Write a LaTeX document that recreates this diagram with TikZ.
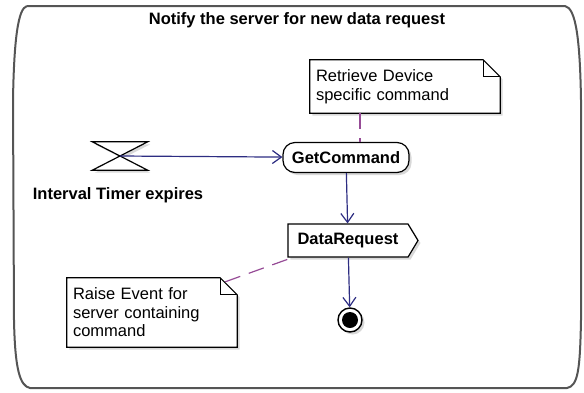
\documentclass[tikz,border=0pt]{standalone}
\usepackage{fontspec}
\setmainfont{Liberation Sans}
\usetikzlibrary{arrows.meta,shapes.symbols,shadows,backgrounds,positioning}

\definecolor{flowblue}{RGB}{45,45,130}
\definecolor{anchorpurple}{RGB}{150,75,150}
\definecolor{framegray}{RGB}{85,85,85}

\newcommand{\diagfont}{\fontsize{16.5}{18.5}\selectfont}

% note outline with a folded corner, drawn behind the note text
\newcommand{\notefold}[1]{%
	\begin{scope}[on background layer]
		\draw[noteline] (#1.north west) -- ([xshift=-17pt]#1.north east) -- ([yshift=-17pt]#1.north east) -- (#1.south east) -- (#1.south west) -- cycle;
		\draw[line width=1pt] ([xshift=-17pt]#1.north east) -- ([xshift=-17pt,yshift=-17pt]#1.north east) -- ([yshift=-17pt]#1.north east);
	\end{scope}
}

\begin{document}
\begin{tikzpicture}[x=1pt,y=-1pt]
		\tikzstyle{every node}=[font=\diagfont]
		\tikzstyle{boldtext}=[font=\diagfont\bfseries]
		\tikzstyle{softshadow}=[drop shadow={shadow xshift=2.5pt,shadow yshift=-2.5pt,fill=black!30}]
		\tikzstyle{action}=[boldtext, softshadow, draw, line width=1.2pt, fill=white, rounded corners=12pt, minimum width=126pt, minimum height=30pt, inner sep=2pt]
		\tikzstyle{sendsignal}=[boldtext, softshadow, draw, line width=1.2pt, fill=white, signal, signal to=east, signal pointer angle=118, minimum width=130pt, minimum height=33pt, inner sep=2pt]
		\tikzstyle{final}=[softshadow, circle, draw, line width=1.4pt, fill=white, minimum size=24pt, inner sep=0pt]
		\tikzstyle{timerbox}=[minimum width=55pt, minimum height=28pt, inner sep=0pt]
		\tikzstyle{hourglass}=[line width=1.2pt, fill=white, softshadow]
		\tikzstyle{notebox}=[align=left, inner sep=6pt]
		\tikzstyle{noteline}=[line width=1.2pt, fill=white, softshadow]
		\tikzstyle{flow}=[draw=flowblue, line width=1.2pt, -{Straight Barb[length=9pt,width=13pt]}]
		\tikzstyle{anchorline}=[draw=anchorpurple, line width=1.2pt, dash pattern=on 16pt off 9pt]

		\useasboundingbox (0,0) rectangle (584,392);

		% activity frame
		\draw[framegray, line width=2pt] (27,6) -- (565,6) .. controls (576,8) and (580,40) .. (581,100) -- (581,320) .. controls (580,370) and (578,386) .. (567,388) -- (30,388) .. controls (20,386) and (15,370) .. (14,320) -- (13,100) .. controls (14,40) and (18,8) .. (27,6);
		\node[boldtext] (title) at (297,20) {Notify the server for new data request};

		% accept time event
		\node[timerbox] (timer) at (120,156) {};
		\draw[hourglass] (timer.north west) -- (timer.north east) -- (timer.south west) -- (timer.south east) -- cycle;
		\node[boldtext] (timerlabel) at (118,195) {Interval Timer expires};

		% actions
		\node[action] (getcmd) at (346,157.5) {GetCommand};
		\node[sendsignal] (datareq) at (348,240.5) {DataRequest};
		\node[final] (final) at (350,320) {};
		\fill (final.center) circle (8pt);

		% notes
		\node[notebox, text width=178pt, minimum height=53pt] (retrieve) at (405,86.5) {Retrieve Device\\specific command};
		\notefold{retrieve}
		\node[notebox, text width=158pt, minimum height=69pt] (raise) at (152,312.5) {Raise Event for\\server containing\\command};
		\notefold{raise}

		% connectors
		\draw[flow] (timer.center) -- (getcmd);
		\draw[flow] (getcmd) -- (datareq);
		\draw[flow] (datareq) -- (final);
		\draw[anchorline] (retrieve.south -| getcmd.north) ++(14pt,0) -- ([xshift=14pt]getcmd.north);
		\draw[anchorline] ([xshift=-12pt,yshift=-4pt]raise.north east) -- ([xshift=5pt]datareq.south west);

	\end{tikzpicture}
\end{document}
